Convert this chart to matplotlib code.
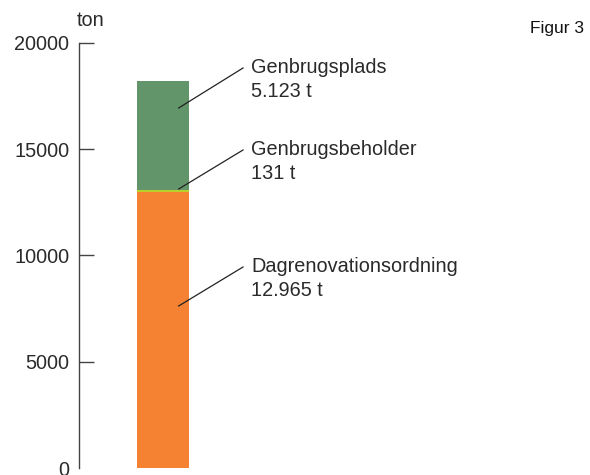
import matplotlib.pyplot as plt

# tons per collection scheme, bottom to top
categories = ['Dagrenovationsordning', 'Genbrugsbeholder', 'Genbrugsplads']
values = [12965, 131, 5123]
value_labels = ['12.965 t', '131 t', '5.123 t']
colors = ['#F58232', '#B9CF2C', '#63956A']
yticks = [0, 5000, 10000, 15000, 20000]
ytick_labels = ['0', '5000', '10000', '15000', '20000']

plt.rcParams['font.family'] = ['Liberation Sans', 'DejaVu Sans']

fig = plt.figure(figsize=(5.9, 4.75), dpi=100)
ax = fig.add_axes([79 / 590, 7 / 475, 511 / 590, 425 / 475])
ax.set_xlim(0, 1)
ax.set_ylim(0, 20000)

bar_x = 0.164
bar_w = 0.102
bottom = 0
for v, c in zip(values, colors):
    ax.bar(bar_x, v, width=bar_w, bottom=bottom, color=c, linewidth=0)
    bottom += v

# leader lines: start inside the segment, end just before the label
starts = [7624, 13129, 16941]
ends = [9459, 14965, 18824]
for cat, lab, y0, y1 in zip(categories, value_labels, starts, ends):
    ax.plot([0.195, 0.321], [y0, y1], color='#222222', lw=0.9, clip_on=False)
    ax.text(0.337, y1 + 480, cat + '\n' + lab, fontsize=14.3, color='#2a2a2a',
            va='top', ha='left', linespacing=1.35)

for s in ['top', 'right', 'bottom']:
    ax.spines[s].set_visible(False)
ax.spines['left'].set_color('#444444')
ax.spines['left'].set_linewidth(1.0)
ax.set_xticks([])
ax.set_yticks(yticks)
ax.set_yticklabels(ytick_labels, fontsize=14.3, color='#2a2a2a')
ax.tick_params(axis='y', direction='in', length=11, width=1.0, color='#444444', pad=7)
ax.yaxis.get_major_ticks()[0].tick1line.set_visible(False)

fig.text(91 / 590, 1 - 20 / 475, 'ton', fontsize=14.3, color='#2a2a2a', ha='center', va='center')
fig.text(584 / 590, 1 - 28 / 475, 'Figur 3', fontsize=12.5, color='#111111', ha='right', va='center')

fig.savefig('out.png', dpi=100)
